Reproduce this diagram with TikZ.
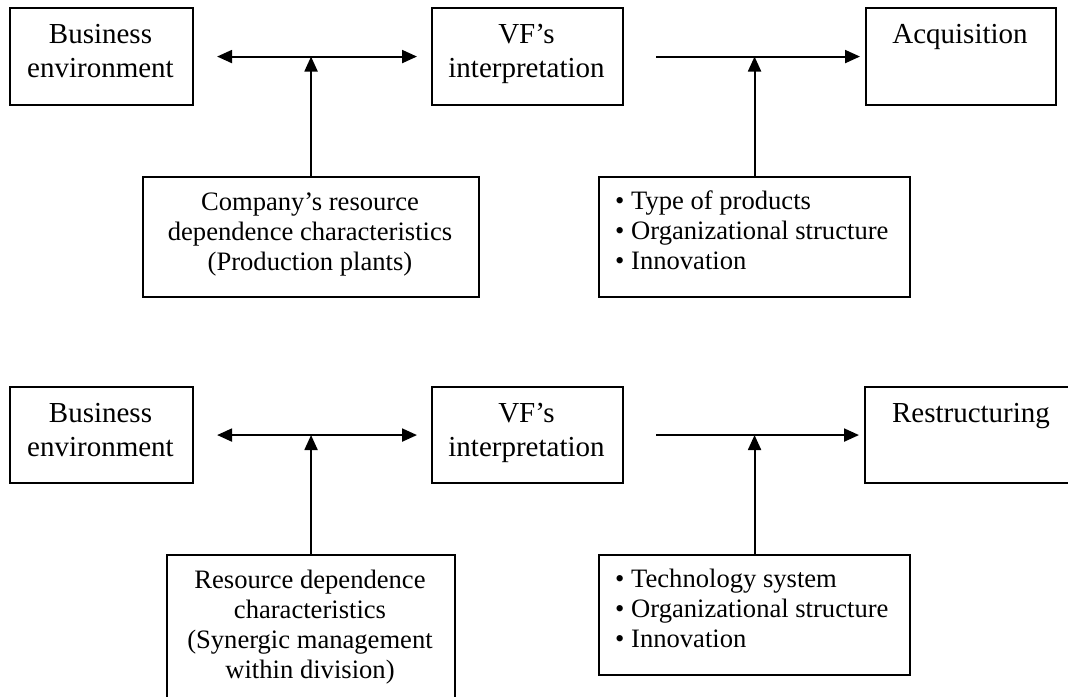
\documentclass[tikz,border=0pt]{standalone}
\usepackage{fontspec}
\setmainfont{Liberation Serif}
\usetikzlibrary{arrows.meta}
\tikzset{
  frame/.style={draw, line width=2.1pt, inner sep=0pt, anchor=north west},
  conn/.style={line width=2.1pt, -{Triangle[length=15pt,width=13pt]}},
  biconn/.style={line width=2.1pt, {Triangle[length=15pt,width=13pt]}-{Triangle[length=15pt,width=13pt]}},
  bigtext/.style={anchor=base, inner sep=0pt, font=\fontsize{29}{34}\selectfont},
  smalltext/.style={anchor=base, inner sep=0pt, font=\fontsize{26.6}{30}\selectfont},
  lefttext/.style={anchor=base west, inner sep=0pt, font=\fontsize{26.6}{30}\selectfont},
}
\newcommand{\ctext}[1]{\begin{tabular}[t]{@{}c@{}}#1\end{tabular}}
\newcommand{\ltext}[1]{\begin{tabular}[t]{@{}l@{}}#1\end{tabular}}
\begin{document}
\begin{tikzpicture}[x=1pt, y=-1pt]
  \path[clip, use as bounding box] (0,0) rectangle (1068,696);
  \fill[white] (0,0) rectangle (1068,696);

  % ---------- upper model: acquisition ----------
  \node[frame, minimum width=183pt, minimum height=97pt] (be1) at (9,7) {};
  \node[bigtext] at (100.5,43.3) {\ctext{Business\\environment}};

  \node[frame, minimum width=191pt, minimum height=97pt] (vf1) at (431,7) {};
  \node[bigtext] at (526.5,43.3) {\ctext{VF’s\\interpretation}};

  \node[frame, minimum width=190pt, minimum height=97pt] (acq) at (865,7) {};
  \node[bigtext] at (960,43.3) {Acquisition};

  \node[frame, minimum width=336pt, minimum height=120pt] (comp) at (142,176) {};
  \node[smalltext] at (310,210) {\ctext{Company’s resource\\dependence characteristics\\(Production plants)}};

  \node[frame, minimum width=311pt, minimum height=120pt] (bul1) at (598,176) {};
  \node[lefttext] at (615,209) {\ltext{• Type of products\\• Organizational structure\\• Innovation}};

  \coordinate (j1) at (comp.north |- be1.east);
  \coordinate (j2) at (bul1.north |- be1.east);
  \draw[biconn] ([xshift=23pt]be1.east) -- ([xshift=-14pt]vf1.west);
  \draw[conn] ([xshift=32pt]vf1.east) -- ([xshift=-5pt]acq.west);
  \draw[conn] (comp.north) -- (j1);
  \draw[conn] (bul1.north) -- (j2);

  % ---------- lower model: restructuring ----------
  \node[frame, minimum width=183pt, minimum height=96pt] (be2) at (9,386) {};
  \node[bigtext] at (100.5,422.5) {\ctext{Business\\environment}};

  \node[frame, minimum width=191pt, minimum height=96pt] (vf2) at (431,386) {};
  \node[bigtext] at (526.5,422.5) {\ctext{VF’s\\interpretation}};

  \node[frame, minimum width=216pt, minimum height=96pt] (res) at (864,386) {};
  \node[bigtext] at (971,422.5) {Restructuring};

  \node[frame, minimum width=288pt, minimum height=160pt] (rdc) at (166,554) {};
  \node[smalltext] at (310,588) {\ctext{Resource dependence\\characteristics\\(Synergic management\\within division)}};

  \node[frame, minimum width=311pt, minimum height=120pt] (bul2) at (598,554) {};
  \node[lefttext] at (615,587) {\ltext{• Technology system\\• Organizational structure\\• Innovation}};

  \coordinate (j3) at (rdc.north |- be2.east);
  \coordinate (j4) at (bul2.north |- be2.east);
  \draw[biconn] ([xshift=23pt]be2.east) -- ([xshift=-14pt]vf2.west);
  \draw[conn] ([xshift=32pt]vf2.east) -- ([xshift=-5pt]res.west);
  \draw[conn] (rdc.north) -- (j3);
  \draw[conn] (bul2.north) -- (j4);
\end{tikzpicture}
\end{document}
